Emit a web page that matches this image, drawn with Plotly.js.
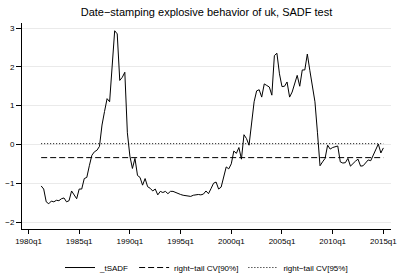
<!DOCTYPE html>
<html>
<head>
<meta charset="utf-8">
<script src="https://cdn.plot.ly/plotly-3.0.1.min.js"></script>
<style>html,body{margin:0;padding:0;background:#fff;}#chart{width:399px;height:275px;}</style>
</head>
<body>
<div id="chart"></div>
<script>
// First observation: 1981q2, quarterly through 2015q1
const startYear = 1981;
const startQuarter = 2;
const tSADF = [
  -1.07, -1.15, -1.48, -1.53, -1.46, -1.48, -1.44, -1.45, -1.40, -1.38,
  -1.48, -1.45, -1.20, -1.30, -1.40, -1.15, -1.15, -0.88, -0.85, -0.55,
  -0.28, -0.19, -0.15, -0.05, 0.50, 0.85, 1.18, 1.10, 2.00, 2.93,
  2.85, 1.65, 1.73, 1.86, 0.30, -0.30, -0.62, -0.36, -0.80, -0.85,
  -1.05, -0.88, -1.09, -1.13, -1.20, -1.15, -1.30, -1.21, -1.24, -1.21,
  -1.27, -1.21, -1.21, -1.24, -1.28, -1.29, -1.31, -1.32, -1.33, -1.34,
  -1.31, -1.30, -1.29, -1.30, -1.28, -1.20, -1.27, -1.14, -1.00, -0.97,
  -1.15, -1.10, -0.80, -0.58, -0.63, -0.50, -0.17, -0.23, -0.08, -0.38,
  0.25, 0.15, -0.02, 0.55, 1.10, 1.38, 1.41, 1.22, 1.56, 1.52,
  1.48, 1.27, 2.29, 2.35, 1.82, 1.49, 1.50, 1.61, 1.22, 1.35,
  1.58, 1.78, 1.50, 1.92, 1.92, 2.33, 1.90, 1.55, 1.10, 0.30,
  -0.55, -0.45, -0.36, -0.02, -0.12, -0.08, -0.05, -0.04, -0.45, -0.48,
  -0.47, -0.36, -0.56, -0.48, -0.43, -0.38, -0.56, -0.55, -0.47, -0.40,
  -0.42, -0.27, -0.13, 0.01, -0.22, -0.09
];
const cv90 = -0.34;
const cv95 = 0.02;
const tickYears = [1980, 1985, 1990, 1995, 2000, 2005, 2010, 2015];
const tickLabels = ["1980q1", "1985q1", "1990q1", "1995q1", "2000q1", "2005q1", "2010q1", "2015q1"];
const yTicks = [-2, -1, 0, 1, 2, 3];
const seriesNames = ["_tSADF", "right\u2212tail CV[90%]", "right\u2212tail CV[95%]"];

const t = tSADF.map((_, i) => startYear + (startQuarter - 1) / 4 + i / 4);
const cv90Series = t.map(() => cv90);
const cv95Series = t.map(() => cv95);

const font = "Liberation Sans, Arial, Helvetica, sans-serif";

const traces = [
  {x: t, y: tSADF, type: "scatter", mode: "lines", name: seriesNames[0],
   line: {color: "#000", width: 1}},
  {x: t, y: cv90Series, type: "scatter", mode: "lines", name: seriesNames[1],
   line: {color: "#000", width: 1, dash: "6px,3px"}},
  {x: t, y: cv95Series, type: "scatter", mode: "lines", name: seriesNames[2],
   line: {color: "#000", width: 1, dash: "1px,2px"}}
];

const layout = {
  width: 399, height: 275,
  margin: {l: 22, r: 8, t: 23, b: 46, pad: 0, autoexpand: false},
  paper_bgcolor: "#fff", plot_bgcolor: "#fff",
  font: {family: font, size: 8, color: "#000"},
  title: {text: "Date\u2212stamping explosive behavior of uk, SADF test",
          font: {family: font, size: 11, color: "#000"},
          x: 0.5, xref: "paper", xanchor: "center", y: 0.955, yref: "container", yanchor: "middle"},
  showlegend: true,
  legend: {orientation: "h", x: 0.5, xanchor: "center", y: -0.187, yanchor: "middle",
           font: {family: font, size: 8, color: "#000"}, itemwidth: 30, bgcolor: "rgba(0,0,0,0)"},
  xaxis: {range: [1979.36, 2015.75], tickvals: tickYears, ticktext: tickLabels,
          showgrid: false, zeroline: false, showline: true, linecolor: "#000", linewidth: 1,
          ticks: "outside", ticklen: 4, tickcolor: "#000", tickwidth: 1,
          tickfont: {family: font, size: 8, color: "#000"}},
  yaxis: {range: [-2.18, 3.13], tickvals: yTicks,
          showgrid: true, gridcolor: "#eaeaea", gridwidth: 1, zeroline: false,
          showline: true, linecolor: "#000", linewidth: 1,
          ticks: "outside", ticklen: 5, tickcolor: "#000", tickwidth: 1,
          tickfont: {family: font, size: 8, color: "#000"}}
};

Plotly.newPlot("chart", traces, layout, {displayModeBar: false, staticPlot: true});
</script>
</body>
</html>
